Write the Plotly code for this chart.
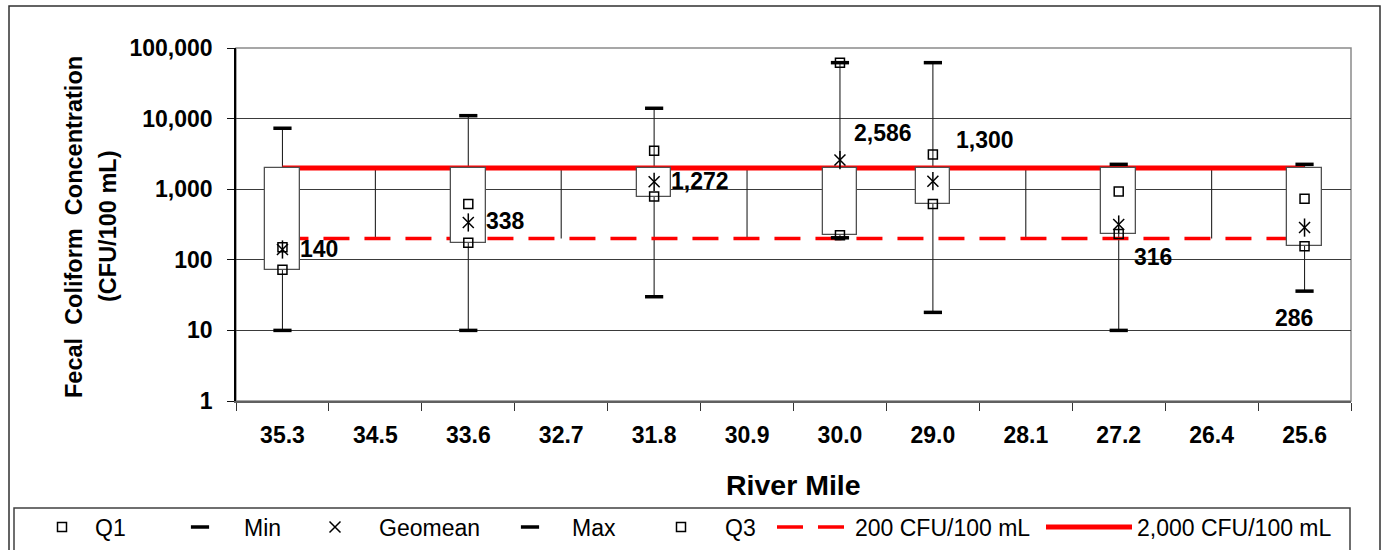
import math
import plotly.graph_objects as go

# ---------------- data ----------------
river_mile = ["35.3", "34.5", "33.6", "32.7", "31.8", "30.9",
              "30.0", "29.0", "28.1", "27.2", "26.4", "25.6"]
q1 = [72, None, 175, None, 785, None, 222, 615, None, 232, None, 155]
q3 = [150, None, 617, None, 3500, None, 62000, 3100, None, 930, None, 735]
min_v = [10, None, 10, None, 30, None, 205, 18, None, 10, None, 36]
max_v = [7300, None, 11000, None, 14000, None, 62000, 62000, None, 2250, None, 2250]
geomean = [140, None, 338, None, 1272, None, 2586, 1300, None, 316, None, 286]
limit_200 = [200] * 12
limit_2000 = [2000] * 12
y_tick_vals = [1, 10, 100, 1000, 10000, 100000]
y_tick_text = ["1", "10", "100", "1,000", "10,000", "100,000"]

# label offsets (px) for the geomean data labels (style only)
label_shift = [(37, 0), (37, 1), (46, 1), (43, 27), (52, 41), (34, -32), (-11, -90)]

FONT = "Arial, Liberation Sans, sans-serif"

# plot-area geometry (px) used to place paper-referenced items
L, R, T, B = 236, 1351, 48, 401
W, H = R - L, B - T


def px_x(px):
    return (px - L) / W


def px_y(py):
    return (B - py) / H


fig = go.Figure()

# ---- high-low lines (base axis, under the boxes) ----
hl_x, hl_y = [], []
for i, cat in enumerate(river_mile):
    vals = [v for v in (q1[i], q3[i], min_v[i], max_v[i], geomean[i],
                        limit_200[i], limit_2000[i]) if v is not None]
    hl_x += [cat, cat, None]
    hl_y += [min(vals), max(vals), None]
fig.add_trace(go.Scatter(x=hl_x, y=hl_y, mode="lines",
                         line=dict(color="#222222", width=1.1),
                         showlegend=False, hoverinfo="skip",
                         xaxis="x", yaxis="y"))

# ---- limit lines ----
fig.add_trace(go.Scatter(x=river_mile, y=limit_200, mode="lines",
                         name="200 CFU/100 mL",
                         line=dict(color="#FF0000", width=3.5, dash="26px,15px"),
                         legend="legend6", xaxis="x", yaxis="y"))
fig.add_trace(go.Scatter(x=river_mile, y=limit_2000, mode="lines",
                         name="2,000 CFU/100 mL",
                         line=dict(color="#FF0000", width=5),
                         legend="legend7", xaxis="x", yaxis="y"))

# ---- boxes (overlay axis so they sit above the limit lines) ----
bx = [c for c, v in zip(river_mile, q1) if v is not None]
bbase = [v for v in q1 if v is not None]
btop = [t for t, v in zip(limit_2000, q1) if v is not None]
fig.add_trace(go.Bar(x=bx, base=bbase, y=[t - b for t, b in zip(btop, bbase)],
                     width=0.373,
                     marker=dict(color="white", line=dict(color="#505050", width=1.3)),
                     showlegend=False, hoverinfo="skip",
                     xaxis="x", yaxis="y2"))

# ---- markers ----
sq = dict(symbol="square-open", size=9, color="black", line=dict(color="black", width=1.5))
dash_m = dict(symbol="line-ew-open", size=13, color="black", line=dict(color="black", width=3.5))
fig.add_trace(go.Scatter(x=river_mile, y=q1, mode="markers", name="Q1",
                         marker=sq, legend="legend", xaxis="x", yaxis="y2"))
fig.add_trace(go.Scatter(x=river_mile, y=min_v, mode="markers", name="Min",
                         marker=dash_m, legend="legend2", xaxis="x", yaxis="y2"))
fig.add_trace(go.Scatter(x=river_mile, y=geomean, mode="markers", name="Geomean",
                         marker=dict(symbol="x-thin-open", size=11, color="black",
                                     line=dict(color="black", width=1.5)),
                         legend="legend3", xaxis="x", yaxis="y2"))
fig.add_trace(go.Scatter(x=river_mile, y=geomean, mode="markers", name="Geomean",
                         marker=dict(symbol="line-ns-open", size=13, color="black",
                                     line=dict(color="black", width=1.5)),
                         showlegend=False, hoverinfo="skip", xaxis="x", yaxis="y2"))
fig.add_trace(go.Scatter(x=river_mile, y=max_v, mode="markers", name="Max",
                         marker=dash_m, legend="legend4", xaxis="x", yaxis="y2"))
fig.add_trace(go.Scatter(x=river_mile, y=q3, mode="markers", name="Q3",
                         marker=sq, legend="legend5", xaxis="x", yaxis="y2"))

# ---- geomean data labels ----
annotations = []
k = 0
for i, g in enumerate(geomean):
    if g is None:
        continue
    dx, dy = label_shift[k]
    k += 1
    annotations.append(dict(x=i, y=math.log10(g), xref="x", yref="y",
                            text=f"<b>{g:,}</b>", showarrow=False, xshift=dx, yshift=dy,
                            xanchor="center", yanchor="middle",
                            font=dict(family=FONT, size=23, color="black")))

# axis titles as annotations
annotations.append(dict(x=px_x(74), y=px_y(227), xref="paper", yref="paper",
                        xanchor="center", yanchor="middle",
                        text="<b>Fecal  Coliform  Concentration</b>", textangle=-90,
                        showarrow=False, font=dict(family=FONT, size=23.5, color="black")))
annotations.append(dict(x=px_x(108), y=px_y(227), xref="paper", yref="paper",
                        xanchor="center", yanchor="middle",
                        text="<b>(CFU/100 mL)</b>", textangle=-90,
                        showarrow=False, font=dict(family=FONT, size=23.5, color="black")))
annotations.append(dict(x=0.5, y=px_y(485), xref="paper", yref="paper",
                        xanchor="center", yanchor="middle",
                        text="<b>River Mile</b>", showarrow=False,
                        font=dict(family=FONT, size=28.5, color="black")))

shapes = [
    # outer chart border
    dict(type="rect", xref="paper", yref="paper", x0=px_x(9), x1=px_x(1380),
         y0=px_y(580), y1=px_y(6), line=dict(color="#303030", width=1.5),
         fillcolor="rgba(0,0,0,0)", layer="below"),
    # legend box
    dict(type="rect", xref="paper", yref="paper", x0=px_x(14), x1=px_x(1350),
         y0=px_y(580), y1=px_y(508), line=dict(color="#404040", width=1.5),
         fillcolor="rgba(0,0,0,0)", layer="below"),
    # plot-area border (top / right)
    dict(type="rect", xref="paper", yref="paper", x0=0, x1=1, y0=0, y1=1,
         line=dict(color="#8a8a8a", width=1.5), fillcolor="rgba(0,0,0,0)", layer="below"),
]

leg_font = dict(family=FONT, size=23, color="black")
leg_y = px_y(527)


def leg(xpx, itemwidth=30):
    return dict(x=px_x(xpx), y=leg_y, xanchor="left", yanchor="middle",
                bgcolor="rgba(0,0,0,0)", borderwidth=0, font=leg_font,
                itemwidth=itemwidth, orientation="h")


fig.update_layout(
    width=1386, height=550,
    margin=dict(l=L, r=1386 - R, t=T, b=550 - B, autoexpand=False),
    paper_bgcolor="white", plot_bgcolor="white",
    font=dict(family=FONT, color="black"),
    bargap=0, barmode="overlay",
    xaxis=dict(type="category", categoryorder="array", categoryarray=river_mile,
               range=[-0.5, len(river_mile) - 0.5],
               tickson="boundaries", ticks="outside", ticklen=8, tickwidth=1,
               tickcolor="#333333", showline=True, linecolor="#606060", linewidth=2,
               showgrid=False, zeroline=False, ticklabelstandoff=12,
               tickfont=dict(family=FONT, size=23, color="black", weight="bold")),
    yaxis=dict(type="log", range=[0, 5], tickvals=y_tick_vals, ticktext=y_tick_text,
               ticks="outside", ticklen=7, tickwidth=1, tickcolor="#111111",
               showline=True, linecolor="black", linewidth=1.6,
               showgrid=True, gridcolor="#3a3a3a", gridwidth=1, zeroline=False,
               ticklabelstandoff=10,
               tickfont=dict(family=FONT, size=23, color="black", weight="bold")),
    yaxis2=dict(type="log", range=[0, 5], overlaying="y", visible=False),
    annotations=annotations,
    shapes=shapes,
    legend=leg(62 - 33, 56),
    legend2=leg(200 - 44, 78),
    legend3=leg(335 - 44, 78),
    legend4=leg(532 - 44, 74),
    legend5=leg(681 - 44, 78),
    legend6=leg(772, 73),
    legend7=leg(1041, 86),
)

fig.write_html("out.html", config={"displayModeBar": False},
               post_script="document.body.style.margin='0px';")
